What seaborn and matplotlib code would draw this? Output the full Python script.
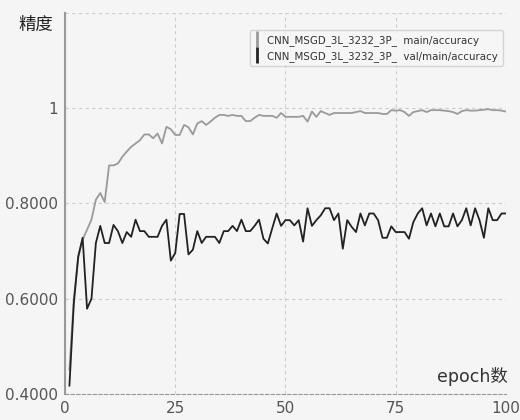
import pandas as pd
import matplotlib
matplotlib.use("Agg")
import matplotlib.pyplot as plt
from matplotlib.lines import Line2D
import seaborn as sns

# -----------------------------
# Data
# -----------------------------
epochs = list(range(1, 101))

main_acc = [
    0.450, 0.600, 0.686, 0.724, 0.745, 0.766, 0.808, 0.822, 0.803, 0.880,
    0.880, 0.884, 0.898, 0.909, 0.919, 0.926, 0.933, 0.945, 0.945, 0.937,
    0.947, 0.926, 0.961, 0.956, 0.944, 0.944, 0.965, 0.960, 0.945, 0.968,
    0.973, 0.965, 0.972, 0.980, 0.986, 0.986, 0.984, 0.986, 0.984, 0.984,
    0.973, 0.973, 0.980, 0.986, 0.984, 0.984, 0.984, 0.980, 0.990, 0.982,
    0.982, 0.982, 0.982, 0.984, 0.972, 0.993, 0.982, 0.994, 0.990, 0.986,
    0.990, 0.990, 0.990, 0.990, 0.990, 0.992, 0.994, 0.990, 0.990, 0.990,
    0.990, 0.988, 0.988, 0.996, 0.995, 0.996, 0.992, 0.984, 0.992, 0.994,
    0.996, 0.992, 0.996, 0.996, 0.996, 0.995, 0.994, 0.992, 0.988, 0.994,
    0.996, 0.995, 0.995, 0.996, 0.997, 0.998, 0.996, 0.996, 0.995, 0.993,
]

val_acc = [
    0.417, 0.590, 0.689, 0.728, 0.579, 0.600, 0.717, 0.753, 0.717, 0.717,
    0.755, 0.742, 0.717, 0.740, 0.730, 0.766, 0.742, 0.742, 0.730, 0.730,
    0.730, 0.753, 0.766, 0.680, 0.696, 0.778, 0.778, 0.693, 0.703, 0.742,
    0.717, 0.730, 0.730, 0.730, 0.717, 0.742, 0.742, 0.753, 0.742, 0.766,
    0.742, 0.742, 0.753, 0.766, 0.726, 0.716, 0.748, 0.779, 0.753, 0.765,
    0.765, 0.754, 0.765, 0.720, 0.790, 0.753, 0.765, 0.775, 0.790, 0.790,
    0.765, 0.779, 0.705, 0.765, 0.751, 0.740, 0.779, 0.754, 0.779, 0.779,
    0.765, 0.728, 0.728, 0.752, 0.740, 0.740, 0.740, 0.726, 0.761, 0.779,
    0.790, 0.754, 0.779, 0.752, 0.779, 0.752, 0.752, 0.779, 0.752, 0.765,
    0.790, 0.754, 0.790, 0.765, 0.728, 0.790, 0.765, 0.765, 0.779, 0.779,
]

series_names = [
    "CNN_MSGD_3L_3232_3P_  main/accuracy",
    "CNN_MSGD_3L_3232_3P_  val/main/accuracy",
]
series_colors = ["#9a9a9a", "#222222"]

y_ticks = [0.4, 0.6, 0.8, 1.0, 1.2]
y_tick_labels = ["0.4000", "0.6000", "0.8000", "1", ""]
x_ticks = [0, 25, 50, 75, 100]

df = pd.DataFrame({
    "epoch": epochs * 2,
    "acc": main_acc + val_acc,
    "series": [series_names[0]] * len(epochs) + [series_names[1]] * len(epochs),
})

# -----------------------------
# Style
# -----------------------------
sns.set_style("white")
plt.rcParams["font.family"] = ["DejaVu Sans", "Noto Sans CJK SC"]

bg = "#f5f5f5"
fig = plt.figure(figsize=(5.2, 4.2), dpi=100, facecolor=bg)
ax = fig.add_axes([0.125, 0.062, 0.848, 0.907], facecolor=bg)

sns.lineplot(
    data=df,
    x="epoch",
    y="acc",
    hue="series",
    palette=series_colors,
    linewidth=1.3,
    legend=False,
    ax=ax,
)

ax.set_xlim(0, 100)
ax.set_ylim(0.4, 1.2)
ax.set_xticks(x_ticks)
ax.set_yticks(y_ticks)
ax.set_yticklabels(y_tick_labels)

ax.grid(True, color="#cccccc", linestyle=(0, (3, 3)), linewidth=0.8)

for side in ["top", "right"]:
    ax.spines[side].set_visible(False)
ax.spines["left"].set_color("#999999")
ax.spines["left"].set_linewidth(1.5)
ax.spines["bottom"].set_color("#999999")
ax.spines["bottom"].set_linestyle((0, (3, 2)))

ax.tick_params(axis="both", colors="#999999", length=4, width=1,
               labelsize=11, labelcolor="#555555")
ax.tick_params(axis="x", pad=1)
ax.tick_params(axis="y", pad=1)

ax.set_xlabel("")
ax.set_ylabel("")

fig.text(0.035, 0.94, "精度", fontsize=12.5, color="#222222", va="center")
ax.text(1.005, 0.022, "epoch数", transform=ax.transAxes, fontsize=12.5,
        color="#333333", ha="right", va="bottom")

handles = [
    Line2D([], [], color=c, marker="|", markersize=12, markeredgewidth=2,
           linestyle="none")
    for c in series_colors
]
leg = ax.legend(
    handles,
    series_names,
    loc="upper right",
    bbox_to_anchor=(0.993, 0.955),
    fontsize=7.4,
    frameon=True,
    fancybox=True,
    handlelength=0.3,
    handletextpad=0.9,
    borderpad=0.45,
    labelspacing=0.5,
    borderaxespad=0,
)
leg.get_frame().set_facecolor("#f7f7f7")
leg.get_frame().set_edgecolor("#cccccc")
for t in leg.get_texts():
    t.set_color("#333333")

plt.savefig("out.png", dpi=100, facecolor=bg)
plt.close()
